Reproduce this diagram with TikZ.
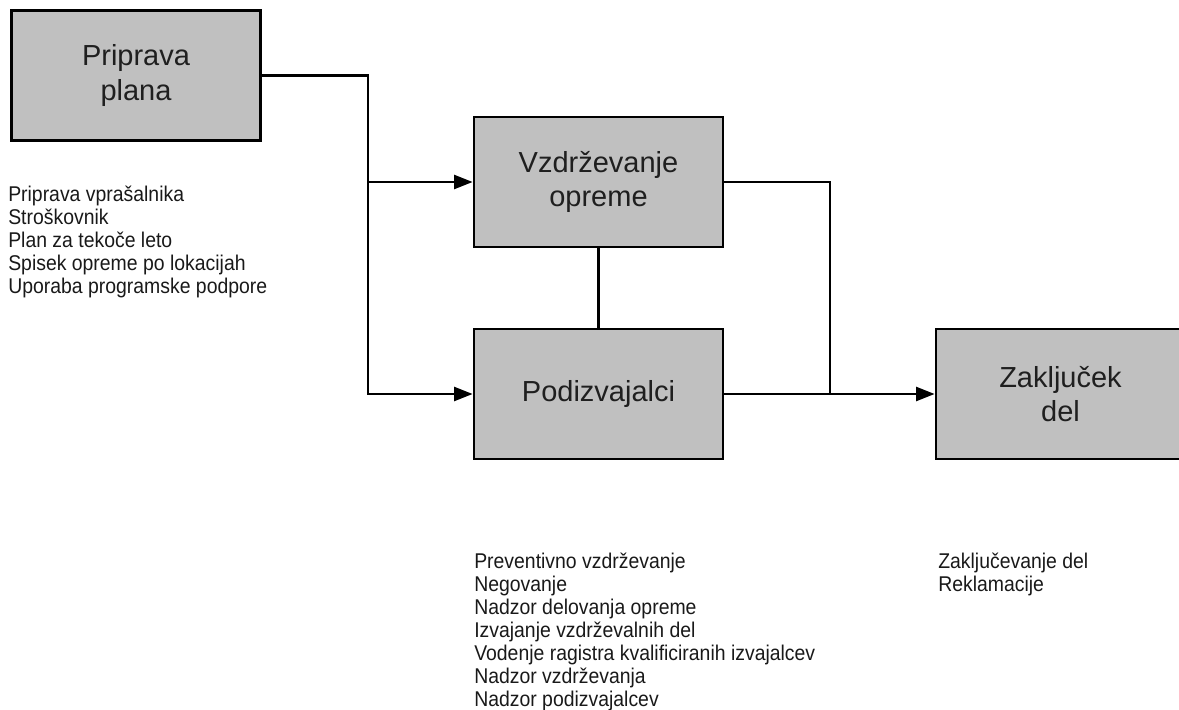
\documentclass[tikz,border=0pt]{standalone}
\usepackage{fontspec}
\setmainfont{Liberation Sans}
\newfontfamily\narrowsans[FakeStretch=0.91]{Liberation Sans}
\usetikzlibrary{positioning, arrows.meta, calc}

\definecolor{boxgray}{RGB}{192,192,192}

\begin{document}
\begin{tikzpicture}[
    x=0.75pt, y=-0.75pt,
    >={Triangle[length=14pt, width=10.5pt]},
    % --- Styles ---
    step_box/.style={draw=black, line width=2pt, fill=boxgray, minimum width=186.75pt, minimum height=97.5pt, inner sep=0pt, align=center, text=black!88, font=\fontsize{21.75}{26}\selectfont},
    task_list/.style={anchor=base west, inner sep=0pt, align=left, text=black!90, font=\narrowsans\fontsize{16}{17.25}\selectfont},
    line_black/.style={line width=2pt, color=black},
    arrow_black/.style={->, line width=2pt, color=black},
]

    \useasboundingbox (0,0) rectangle (1179,710);
    \clip (0,0) rectangle (1179,710);

    % ==========================
    % 1. PLAN (Left)
    % ==========================
    \node[step_box] (plan) at (136, 75.5) {Priprava\\plana};
    % (base = baseline of the last line)
    \node[task_list] (plan_list) at (8, 293) {Priprava vprašalnika\\Stroškovnik\\Plan za tekoče leto\\Spisek opreme po lokacijah\\Uporaba programske podpore};

    % ==========================
    % 2. MAINTENANCE & SUBCONTRACTORS
    % ==========================
    \node[step_box] (maint) at (598.5, 182) {Vzdrževanje\\opreme};
    \node[step_box] (subc) at (598.5, 394) {Podizvajalci};
    \node[task_list] (subc_list) at (474, 706) {Preventivno vzdrževanje\\Negovanje\\Nadzor delovanja opreme\\Izvajanje vzdrževalnih del\\Vodenje ragistra kvalificiranih izvajalcev\\Nadzor vzdrževanja\\Nadzor podizvajalcev};

    % ==========================
    % 3. CLOSING (Right)
    % ==========================
    \node[step_box] (close) at (1060.5, 394) {Zaključek\\del};
    \node[task_list] (close_list) at (938, 591) {Zaključevanje del\\Reklamacije};

    % Connectors
    \coordinate (split) at (368, 250);
    \coordinate (join) at (830, 394);

    \draw[arrow_black] (plan.east) -| (split) |- (subc.west);
    \draw[arrow_black] (split |- maint.west) -- (maint.west);
    \draw[line_black] (maint.south) -- (subc.north);
    \draw[line_black] (maint.east) -| (join);
    \draw[arrow_black] (subc.east) -- (close.west);

\end{tikzpicture}
\end{document}
